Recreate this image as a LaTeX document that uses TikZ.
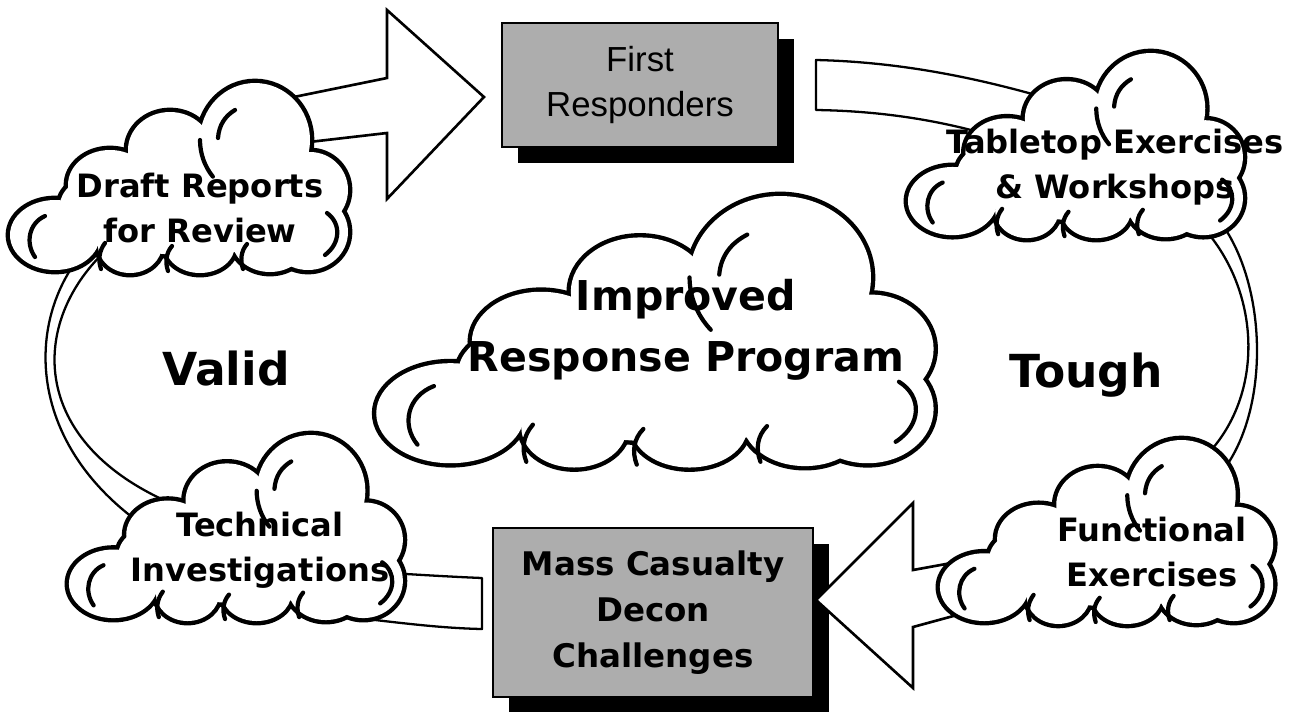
\documentclass[tikz,border=0pt]{standalone}
\usepackage{fontspec}
\setmainfont{DejaVu Sans}
\newfontfamily\boxfont{Liberation Sans}
\usepackage{tikz}
\usetikzlibrary{calc,shadows}
\pgfdeclarelayer{boxes}
\pgfdeclarelayer{ribbons}
\pgfdeclarelayer{clouds}
\pgfsetlayers{boxes,ribbons,clouds,main}

\tikzset{
	cloudtext/.style={align=center, inner sep=0pt, font=\bfseries\fontsize{18.3}{25.5}\selectfont},
	sidetext/.style={inner sep=0pt, font=\bfseries\fontsize{25.9}{31}\selectfont},
	graybox/.style={draw, line width=1.2pt, fill=black!32, align=center, inner sep=0pt,
		drop shadow={shadow xshift=0.32cm, shadow yshift=-0.32cm, fill=black, opacity=1}},
	ribbon/.style={draw, fill=white, line width=1.3pt, line join=round},
	blockarrow/.style={draw, fill=white, line width=1.5pt, line join=miter},
	puff/.style={line width=2.4pt, line cap=round},
	puffcloud/.pic={
		%% outline: thick strokes first, then white fill on top
		\foreach \cx/\cy/\rx/\ry in {50/152/45/35, 125/162/32/28, 195/162/35/28, 265/157/38/32,
			105/102/42/35, 165/67/42/38, 250/57/55/57, 305/107/38/38, 303/149/40/38, 185/122/130/50}
			\filldraw[line width=5pt] (\cx,\cy) ellipse [x radius=\rx, y radius=\ry];
		\foreach \cx/\cy/\rx/\ry in {50/152/45/35, 125/162/32/28, 195/162/35/28, 265/157/38/32,
			105/102/42/35, 165/67/42/38, 250/57/55/57, 305/107/38/38, 303/149/40/38, 185/122/130/50}
			\fill[white] (\cx,\cy) ellipse [x radius=\rx, y radius=\ry];
		% inner strokes
		\draw[puff] (40,133) .. controls (24,140) and (20,160) .. (30,174);
		\draw[puff] (322,130) .. controls (336,140) and (336,160) .. (320,172);
		\draw[puff] (213,55) .. controls (214,42) and (220,33) .. (230,27);
		\draw[puff] (195,57) arc [start angle=180, end angle=140, x radius=55, y radius=57];
		\draw[puff] (96,186) .. controls (93,177) and (94,168) .. (100,160);
		\draw[puff] (163,188) .. controls (160,179) and (161,170) .. (167,163);
		\draw[puff] (238,186) .. controls (235,177) and (236,168) .. (242,161);
	}
}

\begin{document}
\begin{tikzpicture}[x=0.02cm, y=-0.02cm]
	\useasboundingbox (0,0) rectangle (1302,711);

	%% Texts
	\node[cloudtext] (draft) at (200,208) {Draft Reports\\for Review};
	\node[cloudtext] (tabletop) at (1115,167.5) {Tabletop Exercises\\\& Workshops};
	\node[cloudtext] (technical) at (260,550.5) {Technical\\Investigations};
	\node[cloudtext] (functional) at (1152,552) {Functional\\Exercises};
	\node[cloudtext, font=\bfseries\fontsize{23.4}{34.6}\selectfont] (improved) at (686,330) {Improved\\Response Program};
	\node[sidetext] (valid) at (226,368.5) {Valid};
	\node[sidetext] (tough) at (1086,375) {Tough};

	%% Boxes
	\begin{pgfonlayer}{boxes}
		\node[graybox, font=\boxfont\fontsize{19.8}{25.5}\selectfont, minimum width=5.52cm, minimum height=2.48cm]
			(first) at (640,85) {First\\Responders};
		\node[graybox, font=\bfseries\fontsize{18.5}{26}\selectfont, minimum width=6.4cm, minimum height=3.38cm]
			(mass) at (653,612.5) {Mass Casualty\\Decon\\Challenges};
	\end{pgfonlayer}

	%% Clouds
	\begin{pgfonlayer}{clouds}
		\pic at ($(draft)+(-195,-125)$) {puffcloud};
		\pic[xscale=0.991, yscale=0.974] at ($(tabletop)+(-212,-114.5)$) {puffcloud};
		\pic[xscale=0.988, yscale=0.979] at ($(technical)+(-196,-115.5)$) {puffcloud};
		\pic[xscale=0.986, yscale=0.968] at ($(functional)+(-217,-112)$) {puffcloud};
		\pic[xscale=1.649, yscale=1.429] at ($(improved)+(-318,-134)$) {puffcloud};
	\end{pgfonlayer}

	%% End points of the connectors
	\coordinate (tipA) at ($(first.west)+(-17,12)$);
	\coordinate (tailA1) at ($(draft)+(40,-100)$);
	\coordinate (tailA2) at ($(draft)+(40,-58)$);
	\coordinate (c1) at ($(first.east)+(37,-25)$);
	\coordinate (c4) at ($(first.east)+(37,25)$);
	\coordinate (c2) at ($(tabletop)+(-55,-65.5)$);
	\coordinate (c3) at ($(tabletop)+(-115,-29.5)$);
	\coordinate (d1) at ($(tabletop)+(100,47.5)$);
	\coordinate (d4) at ($(tabletop)+(83,54.5)$);
	\coordinate (d2) at ($(functional)+(63,-72)$);
	\coordinate (d3) at ($(functional)+(38,-82)$);
	\coordinate (tipB) at ($(mass.east)+(2,-12.5)$);
	\coordinate (tailB1) at ($(functional)+(-162,4)$);
	\coordinate (tailB2) at ($(functional)+(-162,54)$);
	\coordinate (e1) at ($(mass.west)+(-10,-34.5)$);
	\coordinate (e2) at ($(mass.west)+(-10,16.5)$);
	\coordinate (e3) at ($(technical)+(70,64.5)$);
	\coordinate (e4) at ($(technical)+(70,19.5)$);
	\coordinate (f1) at ($(draft)+(-100,27)$);
	\coordinate (f4) at ($(draft)+(-82,32)$);
	\coordinate (f2) at ($(technical)+(-110,-20.5)$);
	\coordinate (f3) at ($(technical)+(-85,-45.5)$);

	\begin{pgfonlayer}{ribbons}
		% Draft Reports -> First Responders
		\draw[blockarrow] (tailA1) -- ($(tipA)+(-97,-19)$) -- ($(tipA)+(-97,-87)$) -- (tipA)
			-- ($(tipA)+(-97,102)$) -- ($(tipA)+(-97,36)$) -- (tailA2) -- cycle;
		% First Responders -> Tabletop
		\draw[ribbon] (c1) .. controls +(85,2) and +(-80,-24) .. (c2) -- (c3)
			.. controls +(-60,-18) and +(65,1) .. (c4) -- cycle;
		% Tabletop -> Functional
		\draw[ribbon] (d1) .. controls +(55,65) and +(57,-60) .. (d2) -- (d3)
			.. controls +(78,-60) and +(67,68) .. (d4) -- cycle;
		% Functional -> Mass Casualty
		\draw[blockarrow] (tailB1) -- ($(tipB)+(97,-30)$) -- ($(tipB)+(97,-97)$) -- (tipB)
			-- ($(tipB)+(97,88)$) -- ($(tipB)+(97,27)$) -- (tailB2) -- cycle;
		% Mass Casualty -> Technical
		\draw[ribbon] (e1) -- (e2) .. controls +(-50,-1) and +(50,5) .. (e3) -- (e4)
			.. controls +(50,2) and +(-50,-2) .. (e1) -- cycle;
		% Technical -> Draft Reports
		\draw[ribbon] (f1) .. controls +(-75,65) and +(-135,-90) .. (f2) -- (f3)
			.. controls +(-155,-65) and +(-88,70) .. (f4) -- cycle;
	\end{pgfonlayer}
\end{tikzpicture}
\end{document}
